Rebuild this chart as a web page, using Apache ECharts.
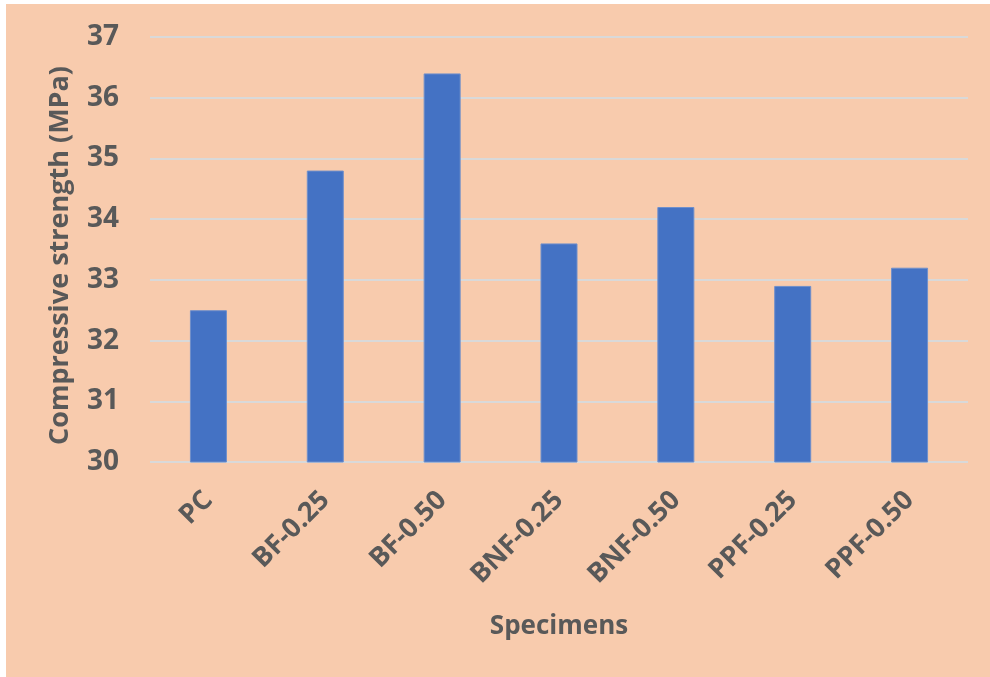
<!DOCTYPE html>
<html>
<head>
<meta charset="utf-8">
<script src="https://cdn.jsdelivr.net/npm/echarts@6/dist/echarts.min.js"></script>
<style>
  html, body { margin: 0; padding: 0; background: #ffffff; }
  #chart { position: absolute; left: 6px; top: 4px; width: 984px; height: 673px; background: #F8CBAD; }
</style>
</head>
<body>
<div id="chart"></div>
<script>
// Specimen labels and measured compressive strength (MPa)
const categories = ['PC', 'BF-0.25', 'BF-0.50', 'BNF-0.25', 'BNF-0.50', 'PPF-0.25', 'PPF-0.50'];
const strength = [32.5, 34.8, 36.4, 33.6, 34.2, 32.9, 33.2];
const yTicks = [30, 31, 32, 33, 34, 35, 36, 37];

const textColor = '#595959';
const font = '"Open Sans", sans-serif';

const chart = echarts.init(document.getElementById('chart'));
chart.setOption({
  backgroundColor: '#F8CBAD',
  animation: false,
  grid: { left: 144, right: 22, top: 33, bottom: 215 },
  xAxis: {
    type: 'category',
    data: categories,
    name: 'Specimens',
    nameLocation: 'middle',
    nameGap: 152,
    nameTextStyle: { color: textColor, fontSize: 26, fontWeight: 'bold', fontFamily: font },
    axisLine: { show: false },
    axisTick: { show: false },
    axisLabel: {
      rotate: 45,
      margin: 34,
      color: textColor,
      fontSize: 27,
      fontWeight: 'bold',
      fontFamily: font
    }
  },
  yAxis: {
    type: 'value',
    min: yTicks[0],
    max: yTicks[yTicks.length - 1],
    interval: 1,
    name: 'Compressive strength (MPa)',
    nameLocation: 'middle',
    nameGap: 76,
    nameRotate: 90,
    nameTextStyle: { color: textColor, fontSize: 27, fontWeight: 'bold', fontFamily: font, padding: [0, 12, 0, 0] },
    axisLine: { show: false },
    axisTick: { show: false },
    axisLabel: {
      margin: 31,
      color: textColor,
      fontSize: 28,
      fontWeight: 'bold',
      fontFamily: font
    },
    splitLine: { lineStyle: { color: '#D9D9D9', width: 2 } }
  },
  series: [{
    type: 'bar',
    data: strength,
    barWidth: 37,
    itemStyle: { color: '#4472C4', borderColor: '#6F8FCB', borderWidth: 1 }
  }]
});
</script>
</body>
</html>
